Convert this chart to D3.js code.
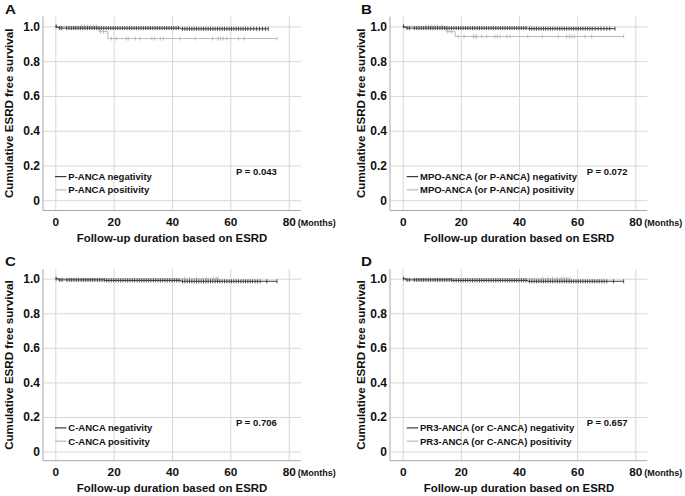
<!DOCTYPE html>
<html><head><meta charset="utf-8">
<script src="https://cdn.jsdelivr.net/npm/d3@7"></script>
<style>
html,body{margin:0;padding:0;background:#fff;}
text{font-family:"Liberation Sans",Arial,sans-serif;fill:#111;}
</style></head><body>
<svg id="c" width="685" height="496"></svg>
<script>
// ---------- data ----------
const panelLetters = ["A","B","C","D"];
const negLabels = ["P-ANCA negativity","MPO-ANCA (or P-ANCA) negativity","C-ANCA negativity","PR3-ANCA (or C-ANCA) negativity"];
const posLabels = ["P-ANCA positivity","MPO-ANCA (or P-ANCA) positivity","C-ANCA positivity","PR3-ANCA (or C-ANCA) positivity"];
const pValues = ["P = 0.043","P = 0.072","P = 0.706","P = 0.657"];
const xTicks = [0,20,40,60,80];
const yTicks = [0,0.2,0.4,0.6,0.8,1.0];
const xTitle = "Follow-up duration based on ESRD";
const yTitle = "Cumulative ESRD free survival";
const xUnit = "(Months)";

// step curves: [time, survival]; last entry = end of follow-up
const negStepsA = [[0,1.0],[0.5,0.995],[1.2,0.99],[43,0.986],[73,0.986]];
const posStepsA = [[0,1.0],[15,0.97],[18,0.93],[76,0.93]];
const negStepsB = [[0,1.0],[0.5,0.995],[1.2,0.99],[43,0.987],[73,0.987]];
const posStepsB = [[0,1.0],[15,0.97],[18,0.942],[76,0.942]];
const negStepsC = [[0,1.0],[1,0.993],[17,0.99],[43,0.985],[76,0.985]];
const posStepsC = [[0,1.0],[56,1.0]];
const negStepsD = [[0,1.0],[1,0.993],[17,0.99],[43,0.985],[76,0.985]];
const posStepsD = [[0,1.0],[57.5,1.0]];

// censored times
const negCensA = [0.3,1.5,2.2,3.9,4.7,5.5,6.3,7.0,7.8,8.6,9.4,10.2,11.0,11.8,12.6,13.4,14.2,15.0,15.8,16.6,17.4,18.2,19.0,19.8,20.6,21.4,22.2,23.0,23.8,24.6,25.4,26.2,27.0,27.8,28.6,29.4,30.2,31.0,31.8,32.6,33.4,34.2,35.0,35.8,36.6,37.4,38.2,39.0,39.8,40.6,41.4,42.2,43.6,44.4,45.2,46.0,46.8,47.6,48.4,49.2,50.0,50.8,51.6,52.4,53.2,54.0,54.8,55.6,56.4,57.2,58.0,58.8,59.6,60.4,61.2,62.0,62.8,63.6,64.4,65.2,66.0,67.0,68.0,69.0,70.0,71.0,72.0,73.0];
const posCensA = [9,10,11,12,13,14,15.5,16.5,19.2,20.9,24.3,25,27.4,29.1,33.1,34,36,37.1,42.8,48,53.9,55.9,56.7,57.6,58.8,62.8,64.8,76];
const negCensB = [0.3,1.5,2.3,4.0,4.8,5.6,6.4,7.2,8.0,8.8,9.6,10.4,11.2,12.0,12.8,13.6,14.4,15.2,16.0,16.8,17.6,18.4,19.2,20.0,20.8,21.6,22.4,23.2,24.0,24.8,25.6,26.4,27.2,28.0,28.8,29.6,30.4,31.2,32.0,32.8,33.6,34.4,35.2,36.0,36.8,37.6,38.4,39.2,40.0,40.8,41.6,42.4,43.6,44.4,45.2,46.0,46.8,47.6,48.4,49.2,50.0,50.8,51.6,52.4,53.2,54.0,54.8,55.6,56.4,57.2,58.0,58.8,59.6,60.4,61.2,62.0,62.8,63.6,64.4,65.2,66.2,67.2,68.2,69.2,70.2,71.2,73.0];
const posCensB = [8,9,10,11,12,13.5,15.5,16.8,19.1,21.1,24.3,24.9,25.4,27.2,28.9,31.7,32.5,33.5,35.8,36.9,43,48,53.5,56.4,57.3,58.1,59,62.7,65,76];
const negCensC = [0.3,1.5,2.3,4.0,4.8,5.6,6.4,7.2,8.0,8.8,9.6,10.4,11.2,12.0,12.8,13.6,14.4,15.2,16.0,16.8,17.6,18.4,19.2,20.0,20.8,21.6,22.4,23.2,24.0,24.8,25.6,26.4,27.2,28.0,28.8,29.6,30.4,31.2,32.0,32.8,33.6,34.4,35.2,36.0,36.8,37.6,38.4,39.2,40.0,40.8,41.6,42.4,43.6,44.4,45.2,46.0,46.8,47.6,48.4,49.2,50.0,50.8,51.6,52.4,53.2,54.0,54.8,55.6,56.4,57.2,58.0,58.8,59.6,60.4,61.2,62.0,62.8,63.6,64.4,65.2,66.0,66.8,67.6,68.5,69.3,70.2,72.5,76.0];
const posCensC = [44.4,46.1,48.4,51.8,54.1,55.2,55.8];
const negCensD = [0.3,1.5,2.3,4.0,4.8,5.6,6.4,7.2,8.0,8.8,9.6,10.4,11.2,12.0,12.8,13.6,14.4,15.2,16.0,16.8,17.6,18.4,19.2,20.0,20.8,21.6,22.4,23.2,24.0,24.8,25.6,26.4,27.2,28.0,28.8,29.6,30.4,31.2,32.0,32.8,33.6,34.4,35.2,36.0,36.8,37.6,38.4,39.2,40.0,40.8,41.6,42.4,43.6,44.4,45.2,46.0,46.8,47.6,48.4,49.2,50.0,50.8,51.6,52.4,53.2,54.0,54.8,55.6,56.4,57.2,58.0,58.8,59.6,60.4,61.2,62.0,62.8,63.6,64.4,65.2,66.0,66.8,67.6,68.5,69.3,70.2,72.5,76.0];
const posCensD = [48,50,51.5,53,54.5,55.5,56.5,57.5];

const negSteps = [negStepsA,negStepsB,negStepsC,negStepsD];
const posSteps = [posStepsA,posStepsB,posStepsC,posStepsD];
const negCens = [negCensA,negCensB,negCensC,negCensD];
const posCens = [posCensA,posCensB,posCensC,posCensD];

// ---------- layout ----------
const cols = [
  {left:43, x0:55.3, x80:288.7, right:301, letterX:5, yTitleX:12.8, legX:55, pX:236},
  {left:390, x0:402.7, x80:635.3, right:647.3, letterX:361, yTitleX:364.8, legX:406.7, pX:586.7}
];
const rows = [
  {top:16.5, y1:26.4, y0:200.2, axis:210.5, letterY:14},
  {top:269, y1:278.7, y0:451.5, axis:460.7, letterY:265.5}
];
const negColor = "#3a3a3a", posColor = "#b9b9b9";

const svg = d3.select("#c");

function survAt(steps,t){
  let s = steps[0][1];
  for (const p of steps){ if (p[0] <= t) s = p[1]; }
  return s;
}

panelLetters.forEach((letter,i)=>{
  const c = cols[i%2], r = rows[Math.floor(i/2)];
  const x = d3.scaleLinear().domain([0,80]).range([c.x0,c.x80]);
  const y = d3.scaleLinear().domain([0,1]).range([r.y0,r.y1]);
  const g = svg.append("g");

  const ya = d3.axisLeft(y).tickValues(yTicks)
    .tickFormat(d=> d===0 ? "0" : d3.format(".1f")(d))
    .tickSize(-(c.right-c.left)).tickPadding(3);
  const yg = g.append("g").attr("transform",`translate(${c.left},0)`).call(ya);
  yg.select(".domain").remove();
  yg.selectAll(".tick line").attr("stroke","#d8d8d8").attr("stroke-width",1);
  yg.selectAll(".tick text").attr("font-size","12px").attr("font-weight","bold")
    .attr("fill","#111").attr("font-family","DejaVu Sans, sans-serif");

  const xa = d3.axisBottom(x).tickValues(xTicks).tickFormat(d3.format("d"))
    .tickSize(-(r.axis-r.top)).tickPadding(6.8);
  const xg = g.append("g").attr("transform",`translate(0,${r.axis})`).call(xa);
  xg.select(".domain").remove();
  xg.selectAll(".tick line").attr("stroke","#d8d8d8").attr("stroke-width",1);
  xg.selectAll(".tick text").attr("font-size","11.8px").attr("font-weight","bold")
    .attr("fill","#111").attr("font-family","Liberation Sans, Arial, sans-serif");

  g.append("line").attr("x1",c.left).attr("x2",c.left).attr("y1",r.top).attr("y2",r.axis)
    .attr("stroke","#a8a8a8").attr("stroke-width",1);
  g.append("line").attr("x1",c.left).attr("x2",c.right).attr("y1",r.axis).attr("y2",r.axis)
    .attr("stroke","#a8a8a8").attr("stroke-width",1);

  g.append("text").attr("x",x(80)+9).attr("y",r.axis+15)
    .attr("font-size","9px").attr("font-weight","bold").text(xUnit);

  g.append("text").attr("x",(c.x0+c.x80)/2).attr("y",r.axis+31.5)
    .attr("text-anchor","middle").attr("font-size","11.4px").attr("font-weight","bold").text(xTitle);
  g.append("text").attr("transform",`translate(${c.yTitleX},${(r.y0+r.y1)/2}) rotate(-90)`)
    .attr("text-anchor","middle").attr("font-size","11.6px").attr("font-weight","bold").text(yTitle);
  g.append("text").attr("transform",`translate(${c.letterX},${r.letterY}) scale(1.12,1)`)
    .attr("font-family","DejaVu Sans, sans-serif")
    .attr("font-size","13.5px").attr("font-weight","bold").text(letter);

  const line = d3.line().x(d=>x(d[0])).y(d=>y(d[1])).curve(d3.curveStepAfter);

  [[posSteps[i],posCens[i],posColor],[negSteps[i],negCens[i],negColor]].forEach(([st,cs,col])=>{
    g.append("path").attr("d",line(st)).attr("fill","none").attr("stroke",col).attr("stroke-width",1);
    g.selectAll(null).data(cs).enter().append("line")
      .attr("x1",d=>x(d)).attr("x2",d=>x(d))
      .attr("y1",d=>y(survAt(st,d))-2).attr("y2",d=>y(survAt(st,d))+2)
      .attr("stroke",col).attr("stroke-width",0.9);
  });

  const ly1 = r.y0-23.6, ly2 = r.y0-10.3;
  [[ly1,negColor,negLabels[i]],[ly2,posColor,posLabels[i]]].forEach(([ly,col,lab])=>{
    g.append("line").attr("x1",c.legX).attr("x2",c.legX+11.5).attr("y1",ly).attr("y2",ly)
      .attr("stroke",col).attr("stroke-width",1.2);
    g.append("text").attr("x",c.legX+13.3).attr("y",ly).attr("dy","0.35em")
      .attr("font-size","9.5px").attr("font-weight","bold").text(lab);
  });

  g.append("text").attr("x",c.pX).attr("y",r.y0-28.5).attr("dy","0.35em")
    .attr("font-size","9.5px").attr("font-weight","bold").text(pValues[i]);
});
</script>
</body></html>
